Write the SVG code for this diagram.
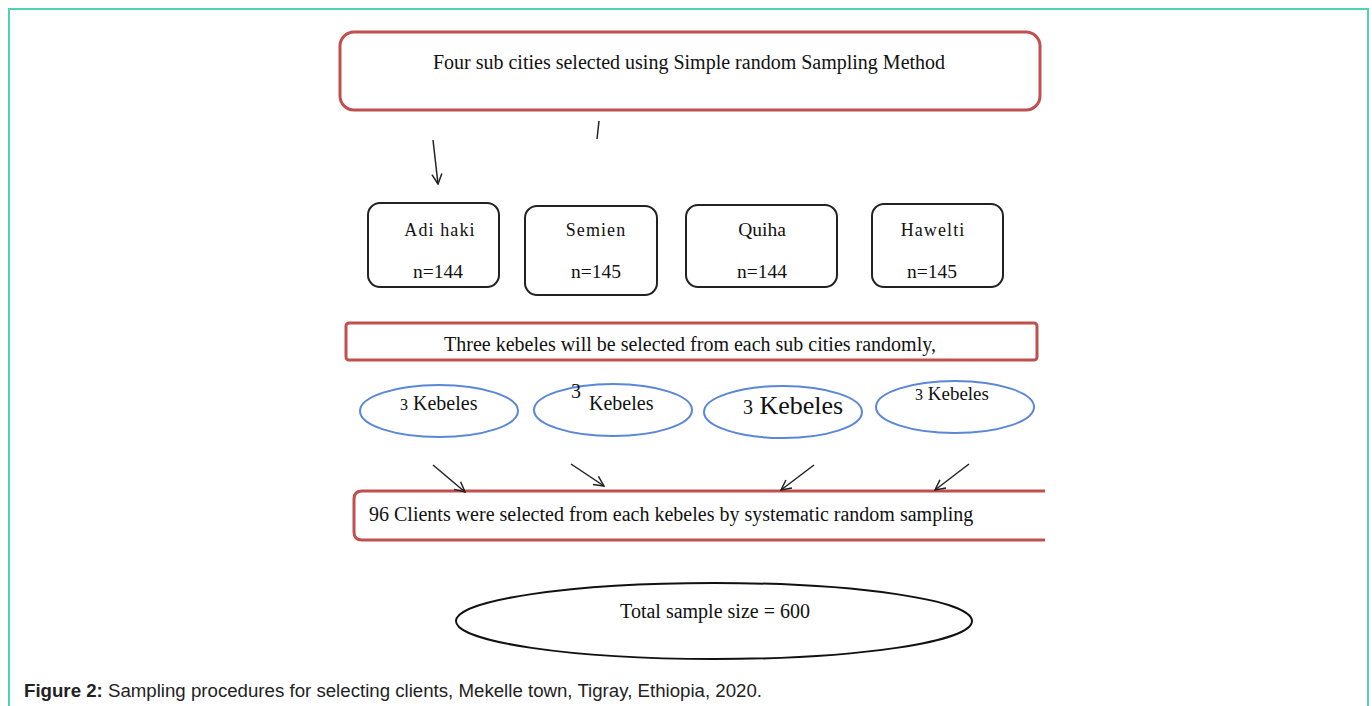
<svg xmlns="http://www.w3.org/2000/svg" width="1372" height="706" viewBox="0 0 1372 706">
<defs>
<style>
.serif{font-family:"Liberation Serif","Times New Roman",serif;fill:#111}
.red{fill:none;stroke:#c0504d;stroke-width:3}
.blk{fill:#fff;stroke:#222;stroke-width:2}
.blue{fill:#fff;stroke:#5b87d8;stroke-width:2}
.conn{stroke:#222;stroke-width:1.5;fill:none}
</style>
<marker id="ah" viewBox="0 0 12 12" refX="11" refY="6" markerWidth="12" markerHeight="12" markerUnits="userSpaceOnUse" orient="auto">
<path d="M1,1 L11,6 L1,11" fill="none" stroke="#222" stroke-width="1.5"/>
</marker>
</defs>
<rect x="0" y="0" width="1372" height="706" fill="#fff"/>
<path d="M9,706 V9 H1368 V706" fill="none" stroke="#4fd1b5" stroke-width="2"/>

<g id="top">
<rect class="red" x="340" y="32" width="700" height="78" rx="14"/>
<text class="serif" x="689" y="69" font-size="20" text-anchor="middle">Four sub cities selected using Simple random Sampling Method</text>
</g>

<g id="adihaki">
<rect class="blk" x="368" y="203" width="131" height="84" rx="12"/>
<text class="serif" x="440" y="236" font-size="18" text-anchor="middle" letter-spacing="1.1">Adi haki</text>
<text class="serif" x="438" y="278" font-size="19.5" text-anchor="middle">n=144</text>
</g>
<g id="semien">
<rect class="blk" x="525" y="206" width="132" height="89" rx="12"/>
<text class="serif" x="596" y="236" font-size="18" text-anchor="middle" letter-spacing="1.1">Semien</text>
<text class="serif" x="596" y="278" font-size="19.5" text-anchor="middle">n=145</text>
</g>
<g id="quiha">
<rect class="blk" x="686" y="205" width="151" height="82" rx="12"/>
<text class="serif" x="762" y="236" font-size="19.5" text-anchor="middle">Quiha</text>
<text class="serif" x="762" y="278" font-size="19.5" text-anchor="middle">n=144</text>
</g>
<g id="hawelti">
<rect class="blk" x="872" y="204" width="131" height="83" rx="12"/>
<text class="serif" x="933" y="236" font-size="18" text-anchor="middle" letter-spacing="1.1">Hawelti</text>
<text class="serif" x="932" y="278" font-size="19.5" text-anchor="middle">n=145</text>
</g>

<g id="three">
<rect class="red" x="346" y="323" width="691" height="37" rx="3"/>
<text class="serif" x="690" y="351" font-size="20" text-anchor="middle">Three kebeles will be selected from each sub cities randomly,</text>
</g>

<g id="keb1">
<ellipse class="blue" cx="439" cy="411" rx="79" ry="26"/>
<text class="serif" x="400" y="410" font-size="20"><tspan font-size="16">3</tspan> Kebeles</text>
</g>
<g id="keb2">
<ellipse class="blue" cx="613" cy="410" rx="79" ry="26"/>
<text class="serif" x="571" y="398" font-size="20">3</text>
<text class="serif" x="589" y="410" font-size="20">Kebeles</text>
</g>
<g id="keb3">
<ellipse class="blue" cx="783" cy="412" rx="79" ry="26"/>
<text class="serif" x="743" y="414" font-size="26"><tspan font-size="20">3</tspan> Kebeles</text>
</g>
<g id="keb4">
<ellipse class="blue" cx="955" cy="407" rx="79" ry="26"/>
<text class="serif" x="915" y="400" font-size="19"><tspan font-size="16">3</tspan> Kebeles</text>
</g>

<g id="clients">
<path class="red" d="M1045,491 H362 Q354,491 354,499 V532 Q354,540 362,540 H1045"/>
<text class="serif" x="369" y="521" font-size="20">96 Clients were selected from each kebeles by systematic random sampling</text>
</g>

<g id="total">
<ellipse cx="714" cy="621" rx="258" ry="38" fill="#fff" stroke="#111" stroke-width="2"/>
<text class="serif" x="715" y="618" font-size="20" text-anchor="middle">Total sample size = 600</text>
</g>

<g id="connectors">
<line class="conn" x1="599" y1="121" x2="597" y2="139"/>
<line class="conn" x1="433" y1="140" x2="438" y2="184" marker-end="url(#ah)"/>
<line class="conn" x1="433" y1="465" x2="465" y2="492" marker-end="url(#ah)"/>
<line class="conn" x1="571" y1="464" x2="604" y2="486" marker-end="url(#ah)"/>
<line class="conn" x1="814" y1="465" x2="781" y2="490" marker-end="url(#ah)"/>
<line class="conn" x1="969" y1="464" x2="935" y2="490" marker-end="url(#ah)"/>
</g>

<text x="24" y="697" font-family="Liberation Sans, Arial, sans-serif" font-size="17.5" fill="#222" textLength="738" lengthAdjust="spacingAndGlyphs"><tspan font-weight="bold">Figure 2:</tspan> Sampling procedures for selecting clients, Mekelle town, Tigray, Ethiopia, 2020.</text>
</svg>
